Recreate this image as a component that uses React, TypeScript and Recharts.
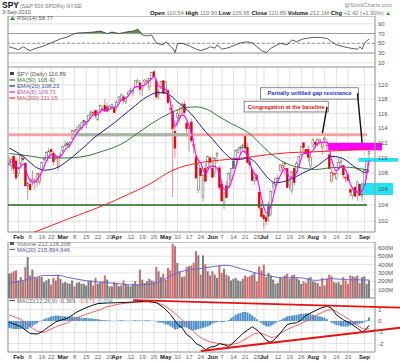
import React from 'react';
import { ComposedChart, Bar, Line, Area, XAxis, YAxis, CartesianGrid, ReferenceLine, ReferenceArea } from 'recharts';

const FONT = '"Liberation Sans", Arial, Helvetica, sans-serif';

// ---------- categories (trading days) ----------
const tradingDays: [string, number[]][] = [
  ['Jan', [26, 27, 28, 29]],
  ['Feb', [1, 2, 3, 4, 5, 8, 9, 10, 11, 12, 16, 17, 18, 19, 22, 23, 24, 25, 26]],
  ['Mar', [1, 2, 3, 4, 5, 8, 9, 10, 11, 12, 15, 16, 17, 18, 19, 22, 23, 24, 25, 26, 29, 30, 31]],
  ['Apr', [1, 5, 6, 7, 8, 9, 12, 13, 14, 15, 16, 19, 20, 21, 22, 23, 26, 27, 28, 29, 30]],
  ['May', [3, 4, 5, 6, 7, 10, 11, 12, 13, 14, 17, 18, 19, 20, 21, 24, 25, 26, 27, 28]],
  ['Jun', [1, 2, 3, 4, 7, 8, 9, 10, 11, 14, 15, 16, 17, 18, 21, 22, 23, 24, 25, 28, 29, 30]],
  ['Jul', [1, 2, 6, 7, 8, 9, 12, 13, 14, 15, 16, 19, 20, 21, 22, 23, 26, 27, 28, 29, 30]],
  ['Aug', [2, 3, 4, 5, 6, 9, 10, 11, 12, 13, 16, 17, 18, 19, 20, 23, 24, 25, 26, 27, 30, 31]],
  ['Sep', [1, 2, 3]],
];

const tickDates = ['Feb 1', 'Feb 8', 'Feb 16', 'Feb 22', 'Mar 1', 'Mar 8', 'Mar 15', 'Mar 22', 'Mar 29', 'Apr 1', 'Apr 12', 'Apr 19', 'Apr 26', 'May 3', 'May 10', 'May 17', 'May 24', 'Jun 1', 'Jun 7', 'Jun 14', 'Jun 21', 'Jun 28', 'Jul 1', 'Jul 12', 'Jul 19', 'Jul 26', 'Aug 2', 'Aug 9', 'Aug 16', 'Aug 23', 'Sep 1'];

const priceTicks = [102, 104, 106, 108, 110, 112, 114, 116, 118, 120];
const rsiTicks = [10, 30, 50, 70, 90];
const volTicks = [100, 200, 300, 400, 500, 600];
const macdTicks = [-2, -1, 0, 1];

// ---------- daily OHLC + volume (millions) ----------
const opens = [109.3, 109.0, 110.2, 109.6,
  108.0, 109.2, 109.9, 109.3, 106.4, 106.6, 107.1, 106.9, 106.8, 106.9, 108.5, 109.8, 109.7, 110.1, 111.1, 110.6, 109.9, 108.8, 110.4,
  110.9, 111.7, 111.9, 111.8, 112.6, 113.6, 113.4, 114.0, 113.9, 115.0, 114.5, 115.0, 115.8, 116.1, 116.4, 115.1, 116.3, 116.6, 117.1, 116.9, 116.6, 117.0, 116.7,
  117.0, 117.8, 118.0, 118.3, 117.6, 118.6, 119.1, 118.9, 119.7, 120.4, 120.3, 119.4, 120.4, 120.6, 119.7, 120.9, 121.9, 120.6, 118.7, 119.5, 120.6,
  119.0, 119.2, 116.7, 116.3, 113.5, 115.5, 115.3, 116.0, 117.3, 114.6, 114.0, 114.8, 111.5, 110.1, 105.9, 108.6, 105.0, 108.6, 108.7, 110.0,
  108.6, 108.1, 110.3, 108.7, 106.6, 104.3, 106.4, 106.3, 107.1, 109.6, 109.0, 110.7, 111.4, 111.3, 113.0, 111.4, 109.5, 108.5, 107.1, 107.7, 105.6, 103.6,
  102.7, 102.5, 103.8, 102.8, 106.3, 106.6, 107.3, 108.4, 108.7, 109.3, 108.6, 106.5, 105.7, 108.6, 108.1, 108.9, 110.5, 112.0, 111.1, 111.1, 108.9,
  111.5, 112.1, 111.8, 112.0, 111.4, 112.4, 111.6, 110.4, 107.0, 107.8, 107.4, 108.6, 109.4, 109.0, 107.5, 107.8, 105.9, 105.2, 106.2, 105.5, 106.6, 105.1,
  106.6, 108.4, 110.54];
const highs = [110.3, 110.1, 110.4, 110.0,
  108.9, 110.4, 110.5, 109.4, 106.9, 107.4, 108.4, 107.4, 108.1, 108.1, 109.5, 110.0, 110.9, 111.3, 111.2, 110.9, 110.6, 110.3, 110.8,
  111.5, 112.3, 112.2, 112.1, 113.7, 113.9, 114.3, 114.5, 114.8, 115.1, 114.9, 115.7, 116.5, 116.3, 116.4, 116.5, 117.2, 117.0, 118.0, 117.5, 117.2, 117.3, 117.2,
  117.8, 118.4, 118.8, 118.6, 118.4, 119.0, 119.6, 119.3, 120.6, 120.9, 120.7, 119.8, 120.9, 121.0, 121.0, 121.9, 122.1, 121.0, 119.4, 120.6, 120.7,
  120.6, 119.2, 118.0, 117.3, 114.7, 116.5, 117.0, 117.5, 117.8, 115.0, 114.5, 115.3, 112.7, 110.4, 109.3, 108.8, 107.8, 109.3, 110.3, 110.2,
  110.3, 110.0, 110.8, 109.0, 106.8, 105.7, 107.0, 108.1, 108.7, 110.1, 111.1, 111.5, 111.6, 111.9, 113.2, 112.0, 110.1, 108.6, 108.0, 108.0, 105.7, 104.4,
  103.0, 102.9, 104.4, 105.8, 106.8, 107.4, 107.8, 109.1, 109.4, 109.4, 108.7, 107.1, 108.3, 108.8, 109.6, 110.3, 111.5, 112.0, 111.2, 111.7, 110.6,
  112.6, 112.3, 112.6, 112.5, 112.1, 113.0, 112.5, 110.5, 108.6, 108.5, 108.5, 110.0, 110.1, 109.1, 107.7, 108.1, 106.1, 106.3, 106.4, 107.0, 106.7, 105.9,
  108.5, 109.5, 110.90];
const lows = [108.8, 108.3, 107.9, 107.2,
  107.6, 108.7, 109.4, 106.3, 104.6, 105.8, 106.4, 105.9, 106.2, 106.5, 108.0, 109.3, 109.6, 110.0, 110.4, 109.0, 109.7, 108.3, 109.9,
  110.8, 111.5, 111.3, 111.3, 112.5, 113.4, 113.3, 113.8, 113.7, 114.4, 114.0, 114.8, 115.7, 115.7, 115.3, 115.0, 116.0, 116.3, 116.3, 116.1, 116.6, 116.6, 116.0,
  116.5, 117.5, 117.9, 117.4, 117.3, 118.3, 119.0, 118.4, 119.6, 120.4, 118.5, 118.4, 120.1, 120.0, 119.1, 120.7, 121.2, 117.9, 118.0, 119.4, 118.7,
  118.8, 117.2, 116.1, 105.0, 110.0, 114.3, 114.7, 115.8, 115.8, 112.8, 110.9, 112.0, 110.6, 107.3, 105.5, 107.6, 104.4, 106.9, 108.5, 108.6,
  107.5, 107.5, 109.3, 105.9, 104.4, 103.5, 104.8, 106.2, 107.0, 108.6, 108.9, 110.5, 110.4, 111.0, 110.7, 109.3, 108.6, 106.9, 106.5, 107.0, 103.3, 102.4,
  101.1, 101.5, 101.9, 102.6, 105.4, 106.2, 106.9, 108.2, 108.2, 107.7, 106.1, 105.9, 105.4, 106.4, 108.1, 108.8, 110.2, 110.9, 110.3, 109.5, 108.6,
  111.4, 111.4, 111.5, 111.7, 110.4, 112.1, 110.8, 108.6, 106.9, 107.6, 107.1, 108.4, 108.8, 107.3, 106.8, 107.0, 105.0, 104.7, 105.0, 104.5, 105.2, 104.5,
  106.5, 108.2, 109.95];
const closes = [109.3, 109.8, 108.6, 107.4,
  108.8, 110.3, 109.8, 106.4, 106.7, 105.9, 107.2, 107.0, 108.0, 107.9, 109.4, 109.9, 110.7, 110.9, 110.8, 109.5, 110.3, 110.2, 110.4,
  111.5, 111.7, 111.7, 112.1, 113.7, 113.6, 113.8, 114.3, 114.7, 114.8, 114.9, 115.7, 116.2, 116.1, 115.7, 116.2, 117.1, 116.6, 116.3, 116.3, 117.0, 117.2, 116.1,
  117.5, 118.3, 118.6, 117.8, 118.3, 119.0, 119.2, 119.2, 120.6, 120.6, 119.4, 119.7, 120.7, 120.6, 120.9, 121.8, 121.2, 118.3, 119.1, 120.5, 118.8,
  120.4, 117.5, 116.7, 113.9, 111.3, 116.0, 115.7, 117.3, 116.1, 113.9, 114.0, 112.3, 111.8, 107.4, 109.1, 107.7, 107.7, 107.0, 110.2, 109.4,
  107.5, 110.0, 110.6, 106.2, 104.5, 105.5, 104.9, 108.0, 108.6, 108.6, 111.0, 111.1, 111.3, 111.7, 111.3, 109.4, 109.1, 107.1, 107.5, 107.2, 103.7, 102.6,
  102.3, 102.0, 102.6, 105.7, 106.7, 107.4, 107.4, 109.1, 109.0, 109.2, 106.2, 106.9, 108.2, 106.8, 109.3, 110.2, 111.5, 111.4, 110.6, 110.1, 110.1,
  112.4, 111.8, 112.5, 112.4, 112.0, 112.6, 112.0, 108.6, 108.1, 108.0, 108.0, 109.4, 109.6, 107.8, 107.5, 107.1, 105.6, 105.9, 105.1, 106.9, 105.2, 105.3,
  108.4, 109.5, 110.89];
const volumesM = [290, 300, 320, 330,
  210, 250, 200, 370, 490, 270, 340, 250, 240, 260, 250, 190, 210, 230, 160, 240, 210, 280, 230,
  180, 190, 180, 170, 210, 140, 180, 190, 170, 170, 150, 200, 210, 150, 240, 170, 190, 200, 270, 220, 140, 140, 190,
  170, 140, 150, 210, 170, 150, 140, 170, 200, 160, 340, 220, 180, 200, 230, 210, 200, 370, 320, 250, 290,
  220, 360, 330, 650, 620, 420, 320, 250, 260, 370, 380, 390, 420, 560, 510, 280, 510, 400, 320, 270,
  320, 280, 240, 390, 300, 350, 280, 260, 210, 230, 240, 210, 200, 230, 270, 250, 260, 280, 300, 200, 380, 330,
  400, 250, 300, 270, 220, 170, 180, 250, 240, 270, 290, 230, 270, 280, 240, 220, 170, 200, 180, 240, 250,
  200, 190, 180, 140, 240, 150, 230, 280, 260, 190, 180, 190, 160, 250, 210, 170, 270, 260, 250, 270, 180, 250,
  260, 170, 212.1];
const macdHist = [-0.6, -0.65, -0.7, -0.7,
  -0.72, -0.7, -0.68, -0.75, -0.7, -0.55, -0.45, -0.3, -0.2, -0.05, 0.05, 0.15, 0.25, 0.32, 0.4, 0.45, 0.48, 0.47, 0.45,
  0.43, 0.42, 0.4, 0.38, 0.4, 0.38, 0.35, 0.33, 0.3, 0.28, 0.27, 0.25, 0.22, 0.2, 0.18, 0.15, 0.12, 0.1, 0.08, 0.05, 0.05, 0.02, -0.02,
  0.02, 0.05, 0.06, 0.05, 0.03, 0.02, 0.03, 0.05, 0.06, 0.05, 0.04, 0.03, 0.04, 0.06, 0.05, 0.03, 0.02, -0.05, -0.15, -0.12, -0.2,
  -0.3, -0.32, -0.45, -0.6, -0.75, -0.7, -0.62, -0.6, -0.55, -0.6, -0.7, -0.8, -0.82, -0.78, -0.72, -0.65, -0.6, -0.55, -0.45, -0.35,
  -0.25, -0.15, -0.1, -0.05, -0.1, -0.08, 0.0, 0.1, 0.25, 0.4, 0.55, 0.65, 0.72, 0.8, 0.8, 0.75, 0.65, 0.5, 0.35, 0.15, -0.05, -0.2,
  -0.35, -0.45, -0.5, -0.42, -0.3, -0.2, -0.05, 0.1, 0.2, 0.3, 0.4, 0.45, 0.5, 0.52, 0.55, 0.6, 0.62, 0.65, 0.68, 0.65, 0.6,
  0.55, 0.5, 0.45, 0.4, 0.35, 0.3, 0.15, 0.0, -0.15, -0.25, -0.35, -0.4, -0.45, -0.48, -0.5, -0.45, -0.4, -0.35, -0.3, -0.3, -0.25, -0.2,
  -0.1, 0.08, 0.304];

// ---------- indicator readings: [trading-day index, value] ----------
const ma50Pts: [number, number][] = [[0, 110.6], [5, 110.4], [10, 110.2], [15, 110.0], [20, 110.0], [25, 110.0], [30, 110.1], [35, 110.4], [40, 110.9], [45, 111.4], [50, 112.2], [55, 113.3], [60, 114.4], [65, 115.4], [70, 116.2], [75, 116.8], [80, 116.9], [85, 116.5], [90, 115.5], [95, 114.6], [100, 113.8], [103, 113.2], [107, 112.0], [111, 110.8], [116, 109.7], [120, 109.1], [125, 108.7], [131, 108.5], [137, 108.7], [144, 108.8], [150, 108.6], [154, 108.42]];
const ema20Pts: [number, number][] = [[0, 111.3], [3, 110.8], [6, 110.2], [9, 109.4], [12, 108.7], [15, 108.4], [18, 108.5], [21, 108.8], [24, 109.4], [27, 110.1], [30, 110.9], [33, 111.7], [36, 112.6], [39, 113.3], [42, 114.0], [45, 114.7], [48, 115.5], [51, 116.3], [54, 117.1], [57, 117.9], [60, 118.5], [63, 118.9], [66, 118.9], [69, 118.5], [72, 117.6], [75, 116.8], [78, 115.9], [81, 114.7], [84, 113.5], [87, 112.5], [90, 111.4], [93, 110.4], [96, 109.8], [99, 109.8], [102, 110.0], [105, 109.5], [108, 108.4], [111, 107.3], [114, 106.8], [117, 106.9], [120, 107.2], [123, 107.6], [126, 108.1], [129, 108.5], [132, 109.0], [135, 109.7], [138, 110.2], [141, 110.1], [144, 109.7], [147, 109.0], [150, 108.4], [152, 108.1], [154, 108.23]];
const ema5Pts: [number, number][] = [[0, 109.6], [2, 109.3], [4, 108.6], [6, 109.2], [8, 107.6], [10, 106.8], [12, 107.2], [14, 108.2], [16, 109.6], [18, 110.4], [20, 110.1], [22, 110.2], [24, 111.1], [26, 111.7], [28, 112.8], [30, 113.7], [32, 114.4], [34, 115.0], [36, 115.8], [38, 115.9], [40, 116.5], [42, 116.4], [44, 116.8], [46, 116.9], [48, 117.9], [50, 118.1], [52, 118.9], [54, 119.7], [56, 119.8], [58, 120.0], [60, 120.6], [62, 121.2], [64, 119.8], [66, 119.6], [68, 118.9], [70, 115.7], [71, 114.2], [72, 114.8], [74, 115.8], [76, 115.1], [78, 113.3], [80, 110.3], [82, 109.3], [84, 107.9], [86, 108.9], [88, 108.9], [90, 107.9], [92, 105.9], [94, 106.2], [96, 107.8], [98, 109.8], [100, 110.9], [102, 110.3], [104, 108.4], [106, 107.5], [108, 104.8], [110, 103.0], [112, 103.9], [114, 106.2], [116, 107.7], [118, 108.6], [120, 107.5], [122, 107.6], [124, 109.0], [126, 110.6], [128, 110.6], [130, 111.0], [132, 111.9], [134, 112.1], [136, 112.1], [138, 109.7], [140, 108.3], [142, 108.9], [144, 108.4], [146, 106.6], [148, 105.7], [150, 105.6], [152, 106.4], [154, 109.71]];
const ma200Pts: [number, number][] = [[0, 99.6], [5, 100.1], [10, 100.6], [20, 101.7], [30, 102.8], [40, 103.9], [50, 105.2], [60, 106.6], [70, 108.4], [80, 109.3], [90, 109.7], [100, 110.0], [110, 110.4], [120, 110.7], [130, 110.8], [140, 110.95], [150, 111.1], [154, 111.15]];
const volMaPts: [number, number][] = [[0, 175], [10, 235], [15, 270], [21, 270], [25, 247], [32, 211], [39, 190], [47, 171], [53, 155], [62, 171], [68, 250], [73, 311], [82, 352], [86, 371], [93, 391], [99, 352], [104, 311], [110, 271], [117, 243], [124, 243], [131, 211], [138, 231], [145, 219], [154, 215.9]];
const rsiPts: [number, number][] = [[0, 43], [2, 40], [4, 37], [6, 43], [8, 37], [9, 35], [11, 39], [13, 42], [15, 45], [17, 49], [20, 55], [22, 59], [25, 63], [27, 68], [29, 71], [33, 72], [36, 73], [39, 75], [42, 70], [44, 73], [47, 70], [50, 73], [53, 75], [55, 79], [57, 67], [59, 65], [61, 67], [63, 50], [66, 47], [67, 53], [70, 40], [71, 31], [72, 49], [74, 50], [77, 45], [80, 38], [82, 35], [85, 40], [86, 43], [88, 40], [89, 47], [91, 38], [93, 40], [95, 43], [99, 51], [102, 53], [104, 51], [106, 43], [108, 35], [110, 31], [112, 40], [116, 50], [119, 47], [121, 57], [123, 53], [125, 58], [127, 60], [130, 62], [133, 62], [136, 60], [138, 53], [140, 47], [143, 43], [146, 40], [149, 38], [150, 43], [151, 38], [152, 50], [153, 55], [154, 58.77]];
const macdPts: [number, number][] = [[0, -0.1], [5, -0.5], [9, -1.1], [12, -1.15], [14, -0.95], [17, -0.5], [20, -0.06], [25, 0.25], [29, 0.8], [32, 1.1], [35, 1.35], [38, 1.55], [42, 1.6], [46, 1.62], [50, 1.65], [56, 1.72], [59, 1.77], [63, 1.62], [66, 1.2], [69, 0.6], [72, -0.3], [74, -0.6], [76, -1.2], [78, -1.5], [80, -2.0], [82, -2.2], [84, -2.55], [86, -2.3], [88, -2.25], [90, -2.0], [92, -2.1], [94, -2.25], [97, -1.7], [100, -1.1], [102, -0.8], [104, -0.5], [107, -0.95], [110, -1.7], [112, -1.88], [114, -1.55], [117, -0.8], [119, -0.3], [121, -0.2], [123, -0.15], [125, 0.1], [127, 0.5], [130, 0.82], [133, 1.12], [136, 1.33], [138, 1.12], [140, 0.55], [143, 0.1], [146, -0.2], [149, -0.65], [151, -0.95], [152, -0.85], [153, -0.65], [154, -0.369]];
const signalPts: [number, number][] = [[0, 0.55], [5, 0.15], [9, -0.5], [12, -0.9], [15, -1.0], [17, -0.8], [20, -0.5], [25, -0.15], [29, 0.3], [33, 0.6], [38, 0.95], [42, 1.27], [47, 1.5], [53, 1.65], [59, 1.7], [63, 1.62], [66, 1.42], [69, 1.0], [73, 0.3], [77, -0.5], [80, -1.15], [83, -1.6], [86, -1.85], [90, -2.0], [94, -2.1], [98, -1.95], [101, -1.6], [103, -1.35], [105, -1.1], [107, -1.05], [110, -1.25], [112, -1.45], [114, -1.4], [116, -1.1], [119, -0.75], [121, -0.55], [124, -0.3], [127, 0.0], [129, 0.2], [131, 0.45], [133, 0.68], [136, 0.97], [138, 1.0], [140, 0.85], [143, 0.45], [145, 0.2], [147, -0.1], [149, -0.4], [151, -0.65], [152, -0.7], [153, -0.7], [154, -0.673]];

// ---------- build table ----------
type Row = { [k: string]: any };
const dates: string[] = tradingDays.flatMap(([m, ds]) => ds.map((d) => `${m} ${d}`));
const monthStarts = new Set(tradingDays.map(([m, ds]) => `${m} ${ds[0]}`));
const rows: Row[] = dates.map((d, i) => ({
  d,
  open: opens[i], high: highs[i], low: lows[i], close: closes[i],
  prev: i > 0 ? closes[i - 1] : null,
  hl: [lows[i], highs[i]],
  vol: volumesM[i],
  hist: macdHist[i],
}));
rows.push({ d: 'pad1' }, { d: 'pad2' });
const attach = (key: string, pts: [number, number][]) => pts.forEach(([i, v]) => { rows[i][key] = v; });
attach('ma50', ma50Pts); attach('ema20', ema20Pts); attach('ema5', ema5Pts); attach('ma200', ma200Pts);
attach('volMa', volMaPts); attach('rsi', rsiPts); attach('macd', macdPts); attach('signal', signalPts);

// ---------- shapes ----------
const Candle = (p: any) => {
  const { x, y, width, height, payload } = p;
  if (!payload || payload.high == null || !(height > 0)) return null;
  const { open, high, low, close, prev } = payload;
  const lh = Math.log(high), ll = Math.log(low);
  const py = (v: number) => y + ((lh - Math.log(Math.min(high, Math.max(low, v)))) / (lh - ll)) * height;
  const cx = x + width / 2;
  const down = prev != null && close < prev;
  const col = down ? '#e00000' : '#5a5a5a';
  const wick = down ? '#ef7f7f' : '#9a9a9a';
  const top = py(Math.max(open, close));
  const bot = py(Math.min(open, close));
  const filled = close < open;
  return (
    <g>
      <line x1={cx} x2={cx} y1={y} y2={y + height} stroke={wick} strokeWidth={0.9} />
      <rect x={cx - 0.9} y={top} width={1.8} height={Math.max(bot - top, 0.8)} fill={filled ? col : '#ffffff'} stroke={col} strokeWidth={0.5} />
    </g>
  );
};

const VolBar = (p: any) => {
  const { x, y, width, height, payload } = p;
  if (!payload || payload.vol == null) return null;
  const down = payload.prev != null && payload.close < payload.prev;
  return <rect x={x} y={y} width={width} height={height} fill={down ? '#cf6b6b' : '#7d7d7d'} />;
};

const extLine = (extL: number, extR: number, color: string, w: number) => (p: any) => {
  const { x1, y1, x2, y2 } = p;
  const slope = x2 !== x1 ? (y2 - y1) / (x2 - x1) : 0;
  return <line x1={x1 - extL} y1={y1 - slope * extL} x2={x2 + extR} y2={y2 + slope * extR} stroke={color} strokeWidth={w} />;
};

const extBox = (extR: number, fill: string) => (p: any) => (
  <rect x={p.x} y={p.y} width={p.width + extR} height={p.height} fill={fill} />
);

const noteBox = (text: string, color: string) => (p: any) => (
  <g>
    <rect x={p.x} y={p.y} width={p.width} height={p.height} fill="#ffffff" stroke="#555" strokeWidth={0.7} />
    <text x={p.x + p.width / 2} y={p.y + p.height / 2 + 2} textAnchor="middle" fontFamily={FONT} fontSize={5.6} fontWeight="bold" fill={color}>{text}</text>
  </g>
);

const frame = (p: any) => <rect x={p.x} y={p.y} width={p.width} height={p.height} fill="none" stroke="#9a9a9a" strokeWidth={1} />;

const DateTick = (p: any) => {
  const v: string = p.payload.value;
  const [m, d] = v.split(' ');
  const isMonth = monthStarts.has(v);
  return (
    <text x={p.x} y={p.y + 7} textAnchor="middle" fontFamily={FONT} fontSize={6} fontWeight={isMonth ? 'bold' : 'normal'} fill={isMonth ? '#222' : '#666'}>
      {isMonth ? m : d}
    </text>
  );
};

const yTick = { fontSize: 6, fill: '#555', fontFamily: FONT };
const gridStroke = '#e2e2e2';
const MARGIN = { top: 0, right: 0, bottom: 0, left: 8 };

const xAxis = (show: boolean) => (
  <XAxis dataKey="d" scale="band" ticks={tickDates} interval={0} hide={!show} height={show ? 11 : 0}
    tick={show ? <DateTick /> : false} axisLine={false} tickLine={false} tickSize={0} tickMargin={0} />
);

const RsiChart = () => (
  <ComposedChart width={400} height={51} data={rows} margin={MARGIN}>
    <CartesianGrid stroke={gridStroke} />
    {xAxis(false)}
    <YAxis orientation="right" width={25} domain={[1.4, 106]} ticks={rsiTicks} interval={0} tick={yTick} tickSize={0} tickMargin={3} axisLine={false} tickLine={false} allowDataOverflow />
    <ReferenceLine y={70} stroke="#9a9a9a" strokeWidth={1} />
    <ReferenceLine y={30} stroke="#9a9a9a" strokeWidth={1} />
    <ReferenceLine y={50} stroke="#9a9a9a" strokeDasharray="3 2" strokeWidth={1} />
    <Area dataKey={(r: Row) => (r.rsi == null ? null : Math.max(r.rsi, 70))} baseValue={70} type="linear" stroke="none" fill="#4d8a3a" fillOpacity={0.9} connectNulls isAnimationActive={false} />
    <Line dataKey="rsi" type="linear" stroke="#333" strokeWidth={0.8} dot={false} connectNulls isAnimationActive={false} />
    <ReferenceArea x1="Jan 26" x2="pad2" y1={1.4} y2={106} shape={frame} ifOverflow="visible" />
  </ComposedChart>
);

const PriceChart = () => (
  <ComposedChart width={400} height={176} data={rows} margin={MARGIN} barCategoryGap={0} barGap={0}>
    <CartesianGrid stroke={gridStroke} />
    {xAxis(true)}
    <YAxis orientation="right" width={25} scale="log" domain={[100.7, 122.6]} allowDataOverflow ticks={priceTicks} interval={0} tick={yTick} tickSize={0} tickMargin={3} axisLine={false} tickLine={false} />
    <ReferenceLine y={113.07} ifOverflow="visible" shape={extLine(8, 0, '#f5a3a3', 3)} />
    <ReferenceLine segment={[{ x: 'Mar 5', y: 113.07 }, { x: 'May 17', y: 113.07 }]} stroke="#a3b5a3" strokeWidth={3} />
    <ReferenceLine y={104} ifOverflow="visible" shape={extLine(8, 0, '#1f6b1f', 1.6)} />
    <ReferenceArea x1="Aug 11" x2="pad2" y1={111.0} y2={112.0} ifOverflow="visible" shape={extBox(7, '#ff00ff')} />
    <ReferenceArea x1="Aug 30" x2="pad2" y1={109.5} y2={110.0} ifOverflow="visible" shape={extBox(23, '#22e4f2')} />
    <ReferenceArea x1="Aug 31" x2="pad2" y1={105.25} y2={106.76} ifOverflow="visible" shape={extBox(18, '#22e4f2')} />
    <Line dataKey="ma200" type="monotone" stroke="#ff2020" strokeWidth={1} dot={false} connectNulls isAnimationActive={false} />
    <Line dataKey="ma50" type="monotone" stroke="#2f7a2f" strokeWidth={1} dot={false} connectNulls isAnimationActive={false} />
    <Line dataKey="ema20" type="monotone" stroke="#1c1c96" strokeWidth={1} dot={false} connectNulls isAnimationActive={false} />
    <Bar dataKey="hl" shape={Candle} isAnimationActive={false} />
    <Line dataKey="ema5" type="monotone" stroke="#ff00ff" strokeWidth={1.1} dot={false} connectNulls isAnimationActive={false} />
    <ReferenceArea x1="Jun 30" x2="Aug 27" y1={118.0} y2={119.6} ifOverflow="visible" shape={noteBox('Partially unfilled gap resistance', '#1a2fd0')} />
    <ReferenceArea x1="Jun 21" x2="Aug 10" y1={116.2} y2={117.7} ifOverflow="visible" shape={noteBox('Congregation at the baseline', '#e01010')} />
    <ReferenceLine segment={[{ x: 'Aug 27', y: 118.8 }, { x: 'Aug 31', y: 112.0 }]} stroke="#111" strokeWidth={1.4} ifOverflow="visible" />
    <ReferenceLine segment={[{ x: 'Aug 10', y: 116.9 }, { x: 'Aug 6', y: 113.3 }]} stroke="#111" strokeWidth={1.4} ifOverflow="visible" />
    <ReferenceArea x1="Jan 26" x2="pad2" y1={100.7} y2={122.6} shape={frame} ifOverflow="visible" />
  </ComposedChart>
);

const VolumeChart = () => (
  <ComposedChart width={400} height={56} data={rows} margin={MARGIN} barCategoryGap={0} barGap={0}>
    <CartesianGrid stroke={gridStroke} />
    {xAxis(false)}
    <YAxis orientation="right" width={25} domain={[0, 670]} allowDataOverflow ticks={volTicks} interval={0} tick={yTick} tickFormatter={(v: number) => `${v}M`} tickSize={0} tickMargin={3} axisLine={false} tickLine={false} />
    <Bar dataKey="vol" barSize={2} shape={VolBar} isAnimationActive={false} />
    <Line dataKey="volMa" type="monotone" stroke="#6a6ad0" strokeWidth={1} dot={false} connectNulls isAnimationActive={false} />
    <ReferenceArea x1="Jan 26" x2="pad2" y1={0} y2={670} shape={frame} ifOverflow="visible" />
  </ComposedChart>
);

const MacdChart = () => (
  <ComposedChart width={400} height={65} data={rows} margin={MARGIN} barCategoryGap={0} barGap={0}>
    <CartesianGrid stroke={gridStroke} />
    {xAxis(true)}
    <YAxis orientation="right" width={25} domain={[-2.74, 2.04]} allowDataOverflow ticks={macdTicks} interval={0} tick={yTick} tickSize={0} tickMargin={3} axisLine={false} tickLine={false} />
    <Bar dataKey="hist" barSize={2} fill="#4a8fc8" isAnimationActive={false} />
    <Line dataKey="signal" type="linear" stroke="#f05050" strokeWidth={0.9} dot={false} connectNulls isAnimationActive={false} />
    <Line dataKey="macd" type="linear" stroke="#111" strokeWidth={1} dot={false} connectNulls isAnimationActive={false} />
    <ReferenceLine segment={[{ x: 'Apr 13', y: 1.86 }, { x: 'Sep 3', y: 1.26 }]} ifOverflow="visible" shape={extLine(0, 31, '#e81010', 1.8)} />
    <ReferenceLine segment={[{ x: 'May 24', y: -2.65 }, { x: 'Sep 3', y: -0.91 }]} ifOverflow="visible" shape={extLine(0, 31, '#e81010', 1.8)} />
    <ReferenceArea x1="Jan 26" x2="pad2" y1={-2.74} y2={2.04} shape={frame} ifOverflow="visible" />
  </ComposedChart>
);

const T = (props: any) => <text fontFamily={FONT} {...props} />;

const Overlay = () => (
  <svg width={400} height={363} style={{ position: 'absolute', left: 0, top: 0, pointerEvents: 'none' }}>
    <T x={2} y={8} fontSize={8.5} fontWeight="bold" fill="#111">SPY</T>
    <T x={20} y={8} fontSize={5.5} fill="#777">(S&amp;P 500 SPDRs) NYSE</T>
    <T x={2} y={14} fontSize={5.5} fill="#555">3-Sep-2010</T>
    <T x={392} y={6.5} fontSize={5.5} fill="#888" textAnchor="end">@StockCharts.com</T>
    <T x={391} y={14.5} fontSize={5.8} textAnchor="end" fill="#777">
      <tspan fontWeight="bold" fill="#111">Open </tspan>110.54 <tspan fontWeight="bold" fill="#111">High </tspan>110.90 <tspan fontWeight="bold" fill="#111">Low </tspan>109.95 <tspan fontWeight="bold" fill="#111">Close </tspan>110.89 <tspan fontWeight="bold" fill="#111">Volume </tspan>212.1M <tspan fontWeight="bold" fill="#111">Chg </tspan>+1.42 (+1.30%) <tspan fill="#19a019">▲</tspan>
    </T>
    <path d="M10 20 L12.5 16.5 L15 20 Z" fill="#3c7a2c" />
    <T x={17} y={20} fontSize={5.8} fill="#555">RSI(14) 58.77</T>

    <rect x={10} y={72} width={4} height={3} fill="#444" />
    <T x={17} y={76} fontSize={5.8} fill="#555">SPY (Daily) 110.89</T>
    <line x1={9.5} x2={15} y1={80} y2={80} stroke="#2f7a2f" strokeWidth={1.2} />
    <T x={17} y={82} fontSize={5.8} fill="#4b7a4b">MA(50) 108.42</T>
    <line x1={9.5} x2={15} y1={86} y2={86} stroke="#1c1c96" strokeWidth={1.2} />
    <T x={17} y={88} fontSize={5.8} fill="#4a4a9a">EMA(20) 108.23</T>
    <line x1={9.5} x2={15} y1={92} y2={92} stroke="#ff00ff" strokeWidth={1.2} />
    <T x={17} y={94} fontSize={5.8} fill="#c050c0">EMA(5) 109.71</T>
    <line x1={9.5} x2={15} y1={98} y2={98} stroke="#ff2020" strokeWidth={1.2} />
    <T x={17} y={100} fontSize={5.8} fill="#d05050">MA(200) 111.15</T>

    <rect x={10} y={242} width={4} height={3} fill="#555" />
    <T x={17} y={245.5} fontSize={5.8} fill="#666">Volume 212,126,208</T>
    <line x1={9.5} x2={15} y1={249.5} y2={249.5} stroke="#6a6ad0" strokeWidth={1.2} />
    <T x={17} y={251.5} fontSize={5.8} fill="#5a5aa8">MA(20) 215,894,646</T>

    <line x1={9.5} x2={15} y1={300.5} y2={300.5} stroke="#555" strokeWidth={1.2} />
    <T x={17} y={302.5} fontSize={5.8} fill="#666">MACD(12,26,9) -0.369, <tspan fill="#e06060">-0.673</tspan>, <tspan fill="#4a8fc8">0.304</tspan></T>
  </svg>
);

export default function App() {
  return (
    <div style={{ position: 'absolute', left: 0, top: 0, width: 400, height: 363, background: '#ffffff', overflow: 'hidden' }}>
      <div style={{ position: 'absolute', left: 0, top: 16 }}><RsiChart /></div>
      <div style={{ position: 'absolute', left: 0, top: 67 }}><PriceChart /></div>
      <div style={{ position: 'absolute', left: 0, top: 242 }}><VolumeChart /></div>
      <div style={{ position: 'absolute', left: 0, top: 298 }}><MacdChart /></div>
      <Overlay />
    </div>
  );
}
